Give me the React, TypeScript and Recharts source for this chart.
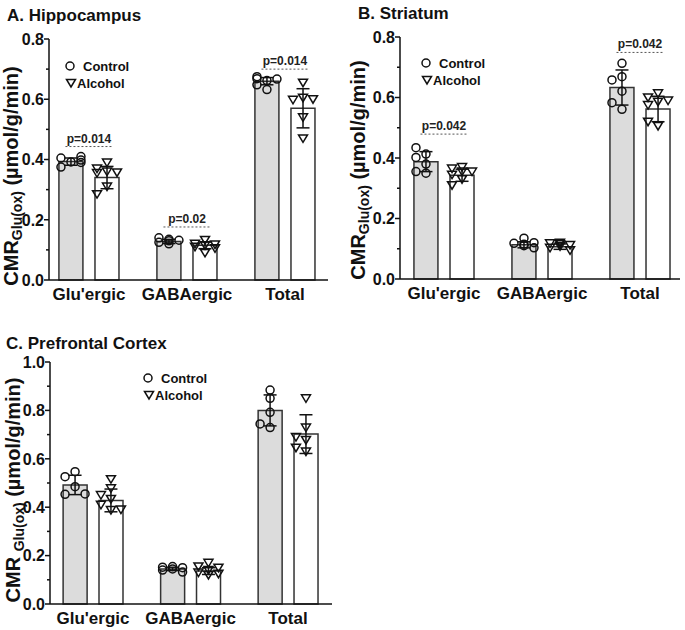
import React from "react";
import {
  ComposedChart,
  Bar,
  Cell,
  Scatter,
  ErrorBar,
  XAxis,
  YAxis,
  ReferenceLine,
  Legend,
} from "recharts";

const CATEGORIES = ["Glu'ergic", "GABAergic", "Total"];

// A. Hippocampus
const HIPPO_CONTROL_MEAN = [0.393, 0.128, 0.66];
const HIPPO_CONTROL_SD = [0.012, 0.007, 0.012];
const HIPPO_ALCOHOL_MEAN = [0.34, 0.115, 0.57];
const HIPPO_ALCOHOL_SD = [0.037, 0.011, 0.065];
const HIPPO_CONTROL_POINTS = [
  [0.392, 0.405, 0.41, 0.39, 0.398, 0.375],
  [0.135, 0.14, 0.132, 0.125, 0.12, 0.13],
  [0.662, 0.675, 0.667, 0.668, 0.648, 0.632],
];
const HIPPO_ALCOHOL_POINTS = [
  [0.39, 0.37, 0.36, 0.357, 0.355, 0.31, 0.285],
  [0.133, 0.12, 0.118, 0.115, 0.11, 0.105, 0.09],
  [0.655, 0.605, 0.598, 0.6, 0.54, 0.47],
];
const HIPPO_P = [
  { cat: 0, text: "p=0.014", y: 0.443 },
  { cat: 1, text: "p=0.02", y: 0.176 },
  { cat: 2, text: "p=0.014", y: 0.7 },
];

// B. Striatum
const STRIATUM_CONTROL_MEAN = [0.388, 0.113, 0.633];
const STRIATUM_CONTROL_SD = [0.033, 0.01, 0.058];
const STRIATUM_ALCOHOL_MEAN = [0.343, 0.107, 0.562];
const STRIATUM_ALCOHOL_SD = [0.02, 0.009, 0.042];
const STRIATUM_CONTROL_POINTS = [
  [0.413, 0.434, 0.402, 0.38, 0.35, 0.355],
  [0.11, 0.118, 0.12, 0.115, 0.135, 0.103],
  [0.713, 0.669, 0.658, 0.621, 0.561, 0.583],
];
const STRIATUM_ALCOHOL_POINTS = [
  [0.37, 0.365, 0.355, 0.355, 0.345, 0.33, 0.31],
  [0.12, 0.118, 0.112, 0.108, 0.103, 0.095, 0.115],
  [0.614, 0.6, 0.586, 0.59, 0.575, 0.506, 0.52],
];
const STRIATUM_P = [
  { cat: 0, text: "p=0.042", y: 0.479 },
  { cat: 2, text: "p=0.042", y: 0.749 },
];

// C. Prefrontal Cortex
const PFC_CONTROL_MEAN = [0.492, 0.145, 0.8];
const PFC_CONTROL_SD = [0.04, 0.007, 0.064];
const PFC_ALCOHOL_MEAN = [0.428, 0.136, 0.702];
const PFC_ALCOHOL_SD = [0.047, 0.014, 0.08];
const PFC_CONTROL_POINTS = [
  [0.547, 0.526, 0.485, 0.453, 0.455],
  [0.155, 0.152, 0.15, 0.145, 0.14, 0.132],
  [0.884, 0.85, 0.792, 0.729, 0.744],
];
const PFC_ALCOHOL_POINTS = [
  [0.516, 0.478, 0.45, 0.434, 0.41, 0.388, 0.39],
  [0.17, 0.155, 0.15, 0.14, 0.13, 0.125, 0.12],
  [0.85, 0.729, 0.678, 0.69, 0.646, 0.63],
];

const TICKS_08 = [0, 0.1, 0.2, 0.3, 0.4, 0.5, 0.6, 0.7, 0.8];
const TICKS_10 = [0, 0.1, 0.2, 0.3, 0.4, 0.5, 0.6, 0.7, 0.8, 0.9, 1.0];

const FONT = "'Liberation Sans', Arial, sans-serif";
const GROUP_OFFSET = 0.184; // bar centre offset from category centre, in x units
const CONTROL_FILL = "#dcdcdc";
const INK = "#111";

// simple beeswarm: push a point sideways when it would sit on top of another
function swarm(values: number[], pxPerY: number, pxPerX: number) {
  const step = 10;
  const diam = 8;
  const placed: { x: number; y: number }[] = [];
  return values.map((v) => {
    const y = v * pxPerY;
    let best = 0;
    let bestD = -1;
    for (const dx of [0, -step, step]) {
      let d = Infinity;
      placed.forEach((p) => {
        d = Math.min(d, Math.hypot(p.x - dx, p.y - y));
      });
      if (d >= diam) {
        best = dx;
        break;
      }
      if (d > bestD) {
        bestD = d;
        best = dx;
      }
    }
    placed.push({ x: best, y });
    return best / pxPerX;
  });
}

const CircleDot = (p: any) => (
  <circle cx={p.cx} cy={p.cy} r={4} fill="none" stroke={INK} strokeWidth={1.5} />
);

const TriDot = (p: any) => {
  const { cx, cy } = p;
  return (
    <path
      d={`M${cx - 4.5},${cy - 3.5} L${cx + 4.5},${cy - 3.5} L${cx},${cy + 4} Z`}
      fill="none"
      stroke={INK}
      strokeWidth={1.5}
    />
  );
};

const NoDot = () => <g />;

const LegendBox = () => (
  <svg width={110} height={38} style={{ display: "block", fontFamily: FONT }}>
    <circle cx={10} cy={10} r={4} fill="none" stroke={INK} strokeWidth={1.5} />
    <text x={23} y={14.5} fontSize={13} fontWeight="bold" fill={INK}>
      Control
    </text>
    <path d="M6.5,23.5 L15.5,23.5 L11,31 Z" fill="none" stroke={INK} strokeWidth={1.5} />
    <text x={17} y={31.5} fontSize={13} fontWeight="bold" fill={INK}>
      Alcohol
    </text>
  </svg>
);

const YTitle = ({ bx, cy, gap }: any) => (
  <text
    x={bx}
    y={cy}
    transform={`rotate(-90, ${bx}, ${cy})`}
    textAnchor="middle"
    fontSize={20}
    fontWeight="bold"
    fill={INK}
    fontFamily={FONT}
  >
    {gap ? "CMR " : "CMR"}
    <tspan fontSize={14} dy={4}>
      Glu(ox)
    </tspan>
    <tspan dy={-4}> (µmol/g/min)</tspan>
  </text>
);

interface PanelProps {
  width: number;
  height: number;
  top: number;
  left: number;
  marginTop: number;
  marginRight: number;
  yAxisWidth: number;
  xAxisHeight: number;
  xDomain: [number, number];
  yMax: number;
  yTicks: number[];
  controlMean: number[];
  controlSd: number[];
  alcoholMean: number[];
  alcoholSd: number[];
  controlPoints: number[][];
  alcoholPoints: number[][];
  pValues: { cat: number; text: string; y: number }[];
  legend: { left: number; top: number };
  yTitle: { bx: number; cy: number; gap?: boolean };
}

const Panel: React.FC<PanelProps> = (props) => {
  const {
    width,
    height,
    top,
    left,
    marginTop,
    marginRight,
    yAxisWidth,
    xAxisHeight,
    xDomain,
    yMax,
    yTicks,
  } = props;
  const plotH = height - marginTop - xAxisHeight;
  const plotW = width - marginRight - yAxisWidth;
  const pxPerY = plotH / yMax;
  const pxPerX = plotW / (xDomain[1] - xDomain[0]);
  const axisX = yAxisWidth;

  const bars: { x: number; y: number; fill: string }[] = [];
  const means: { x: number; y: number; sd: number }[] = [];
  const ctrlDots: { x: number; y: number }[] = [];
  const alcDots: { x: number; y: number }[] = [];

  CATEGORIES.forEach((_, i) => {
    const cx = i + 1 - GROUP_OFFSET;
    const ax = i + 1 + GROUP_OFFSET;
    bars.push({ x: cx, y: props.controlMean[i], fill: CONTROL_FILL });
    bars.push({ x: ax, y: props.alcoholMean[i], fill: "#ffffff" });
    means.push({ x: cx, y: props.controlMean[i], sd: props.controlSd[i] });
    means.push({ x: ax, y: props.alcoholMean[i], sd: props.alcoholSd[i] });
    const cj = swarm(props.controlPoints[i], pxPerY, pxPerX);
    props.controlPoints[i].forEach((v, k) => ctrlDots.push({ x: cx + cj[k], y: v }));
    const aj = swarm(props.alcoholPoints[i], pxPerY, pxPerX);
    props.alcoholPoints[i].forEach((v, k) => alcDots.push({ x: ax + aj[k], y: v }));
  });

  const YTick = (t: any) => {
    const v = t.payload.value;
    const major = Math.round(v * 10) % 2 === 0;
    return (
      <g>
        <line
          x1={axisX - (major ? 5 : 3)}
          x2={axisX}
          y1={t.y}
          y2={t.y}
          stroke={INK}
          strokeWidth={1.5}
        />
        {major && (
          <text
            x={axisX - 5}
            y={t.y}
            dy="0.36em"
            textAnchor="end"
            fontSize={16}
            fontWeight="bold"
            fill={INK}
            fontFamily={FONT}
          >
            {v.toFixed(1)}
          </text>
        )}
      </g>
    );
  };

  return (
    <div style={{ position: "absolute", top, left, width, height }}>
      <ComposedChart
        width={width}
        height={height}
        data={bars}
        margin={{ top: marginTop, right: marginRight, bottom: 0, left: 0 }}
      >
        <XAxis
          type="number"
          dataKey="x"
          domain={xDomain}
          ticks={[1, 2, 3]}
          interval={0}
          tickFormatter={(v: number) => CATEGORIES[v - 1]}
          tickLine={false}
          height={xAxisHeight}
          axisLine={{ stroke: INK, strokeWidth: 1.5 }}
          tick={{ fontSize: 17, fontWeight: "bold", fill: INK, fontFamily: FONT }}
        />
        {/* hidden twin axis so the bar width is taken from the bar positions only */}
        <XAxis xAxisId="bars" type="number" dataKey="x" domain={xDomain} hide />
        <YAxis
          type="number"
          dataKey="y"
          domain={[0, yMax]}
          ticks={yTicks}
          interval={0}
          width={yAxisWidth}
          tickLine={false}
          axisLine={{ stroke: INK, strokeWidth: 1.5 }}
          tick={YTick}
          label={<YTitle {...props.yTitle} />}
        />
        <Bar
          xAxisId="bars"
          dataKey="y"
          barSize={24}
          stroke="#333"
          strokeWidth={1.5}
          isAnimationActive={false}
        >
          {bars.map((b, i) => (
            <Cell key={`bar-${i}`} fill={b.fill} />
          ))}
        </Bar>
        <Scatter data={ctrlDots} shape={CircleDot} isAnimationActive={false} />
        <Scatter data={alcDots} shape={TriDot} isAnimationActive={false} />
        <Scatter data={means} shape={NoDot} isAnimationActive={false}>
          <ErrorBar dataKey="sd" direction="y" width={6.5} stroke={INK} strokeWidth={1.5} />
        </Scatter>
        {props.pValues.map((p, i) => (
          <ReferenceLine
            key={`p-${i}`}
            segment={[
              { x: p.cat + 1 - 0.24, y: p.y },
              { x: p.cat + 1 + 0.24, y: p.y },
            ]}
            stroke="#555"
            strokeWidth={1}
            strokeDasharray="2 2"
            ifOverflow="visible"
            label={{
              value: p.text,
              position: "top",
              offset: 4,
              fontSize: 12,
              fontWeight: "bold",
              fill: "#222",
              fontFamily: FONT,
            }}
          />
        ))}
        <Legend
          layout="vertical"
          align="center"
          verticalAlign="middle"
          wrapperStyle={{ left: props.legend.left, top: props.legend.top, width: 110, height: 38 }}
          content={() => <LegendBox />}
        />
      </ComposedChart>
    </div>
  );
};

export default function App() {
  return (
    <div
      style={{
        position: "absolute",
        left: 0,
        top: 0,
        width: 685,
        height: 630,
        background: "#fff",
        fontFamily: FONT,
        fontWeight: "bold",
      }}
    >
      <Panel
        width={340}
        height={310}
        top={0}
        left={0}
        marginTop={39}
        marginRight={12}
        yAxisWidth={49}
        xAxisHeight={30}
        xDomain={[0.592, 3.439]}
        yMax={0.8}
        yTicks={TICKS_08}
        controlMean={HIPPO_CONTROL_MEAN}
        controlSd={HIPPO_CONTROL_SD}
        alcoholMean={HIPPO_ALCOHOL_MEAN}
        alcoholSd={HIPPO_ALCOHOL_SD}
        controlPoints={HIPPO_CONTROL_POINTS}
        alcoholPoints={HIPPO_ALCOHOL_POINTS}
        pValues={HIPPO_P}
        legend={{ left: 60, top: 56 }}
        yTitle={{ bx: 18, cy: 176 }}
      />
      <Panel
        width={345}
        height={310}
        top={0}
        left={340}
        marginTop={37}
        marginRight={5}
        yAxisWidth={60}
        xAxisHeight={31}
        xDomain={[0.551, 3.408]}
        yMax={0.8}
        yTicks={TICKS_08}
        controlMean={STRIATUM_CONTROL_MEAN}
        controlSd={STRIATUM_CONTROL_SD}
        alcoholMean={STRIATUM_ALCOHOL_MEAN}
        alcoholSd={STRIATUM_ALCOHOL_SD}
        controlPoints={STRIATUM_CONTROL_POINTS}
        alcoholPoints={STRIATUM_ALCOHOL_POINTS}
        pValues={STRIATUM_P}
        legend={{ left: 76, top: 53 }}
        yTitle={{ bx: 25, cy: 170 }}
      />
      <Panel
        width={340}
        height={320}
        top={310}
        left={0}
        marginTop={52}
        marginRight={8}
        yAxisWidth={50}
        xAxisHeight={26}
        xDomain={[0.559, 3.451]}
        yMax={1.0}
        yTicks={TICKS_10}
        controlMean={PFC_CONTROL_MEAN}
        controlSd={PFC_CONTROL_SD}
        alcoholMean={PFC_ALCOHOL_MEAN}
        alcoholSd={PFC_ALCOHOL_SD}
        controlPoints={PFC_CONTROL_POINTS}
        alcoholPoints={PFC_ALCOHOL_POINTS}
        pValues={[]}
        legend={{ left: 138, top: 58 }}
        yTitle={{ bx: 20, cy: 180, gap: true }}
      />
      <svg
        width={685}
        height={630}
        style={{ position: "absolute", left: 0, top: 0, pointerEvents: "none" }}
      >
        <g fontFamily={FONT} fontWeight="bold" fontSize={17} fill={INK}>
          <text x={7} y={21}>A. Hippocampus</text>
          <text x={358} y={18.5}>B. Striatum</text>
          <text x={6} y={349}>C. Prefrontal Cortex</text>
        </g>
      </svg>
    </div>
  );
}
